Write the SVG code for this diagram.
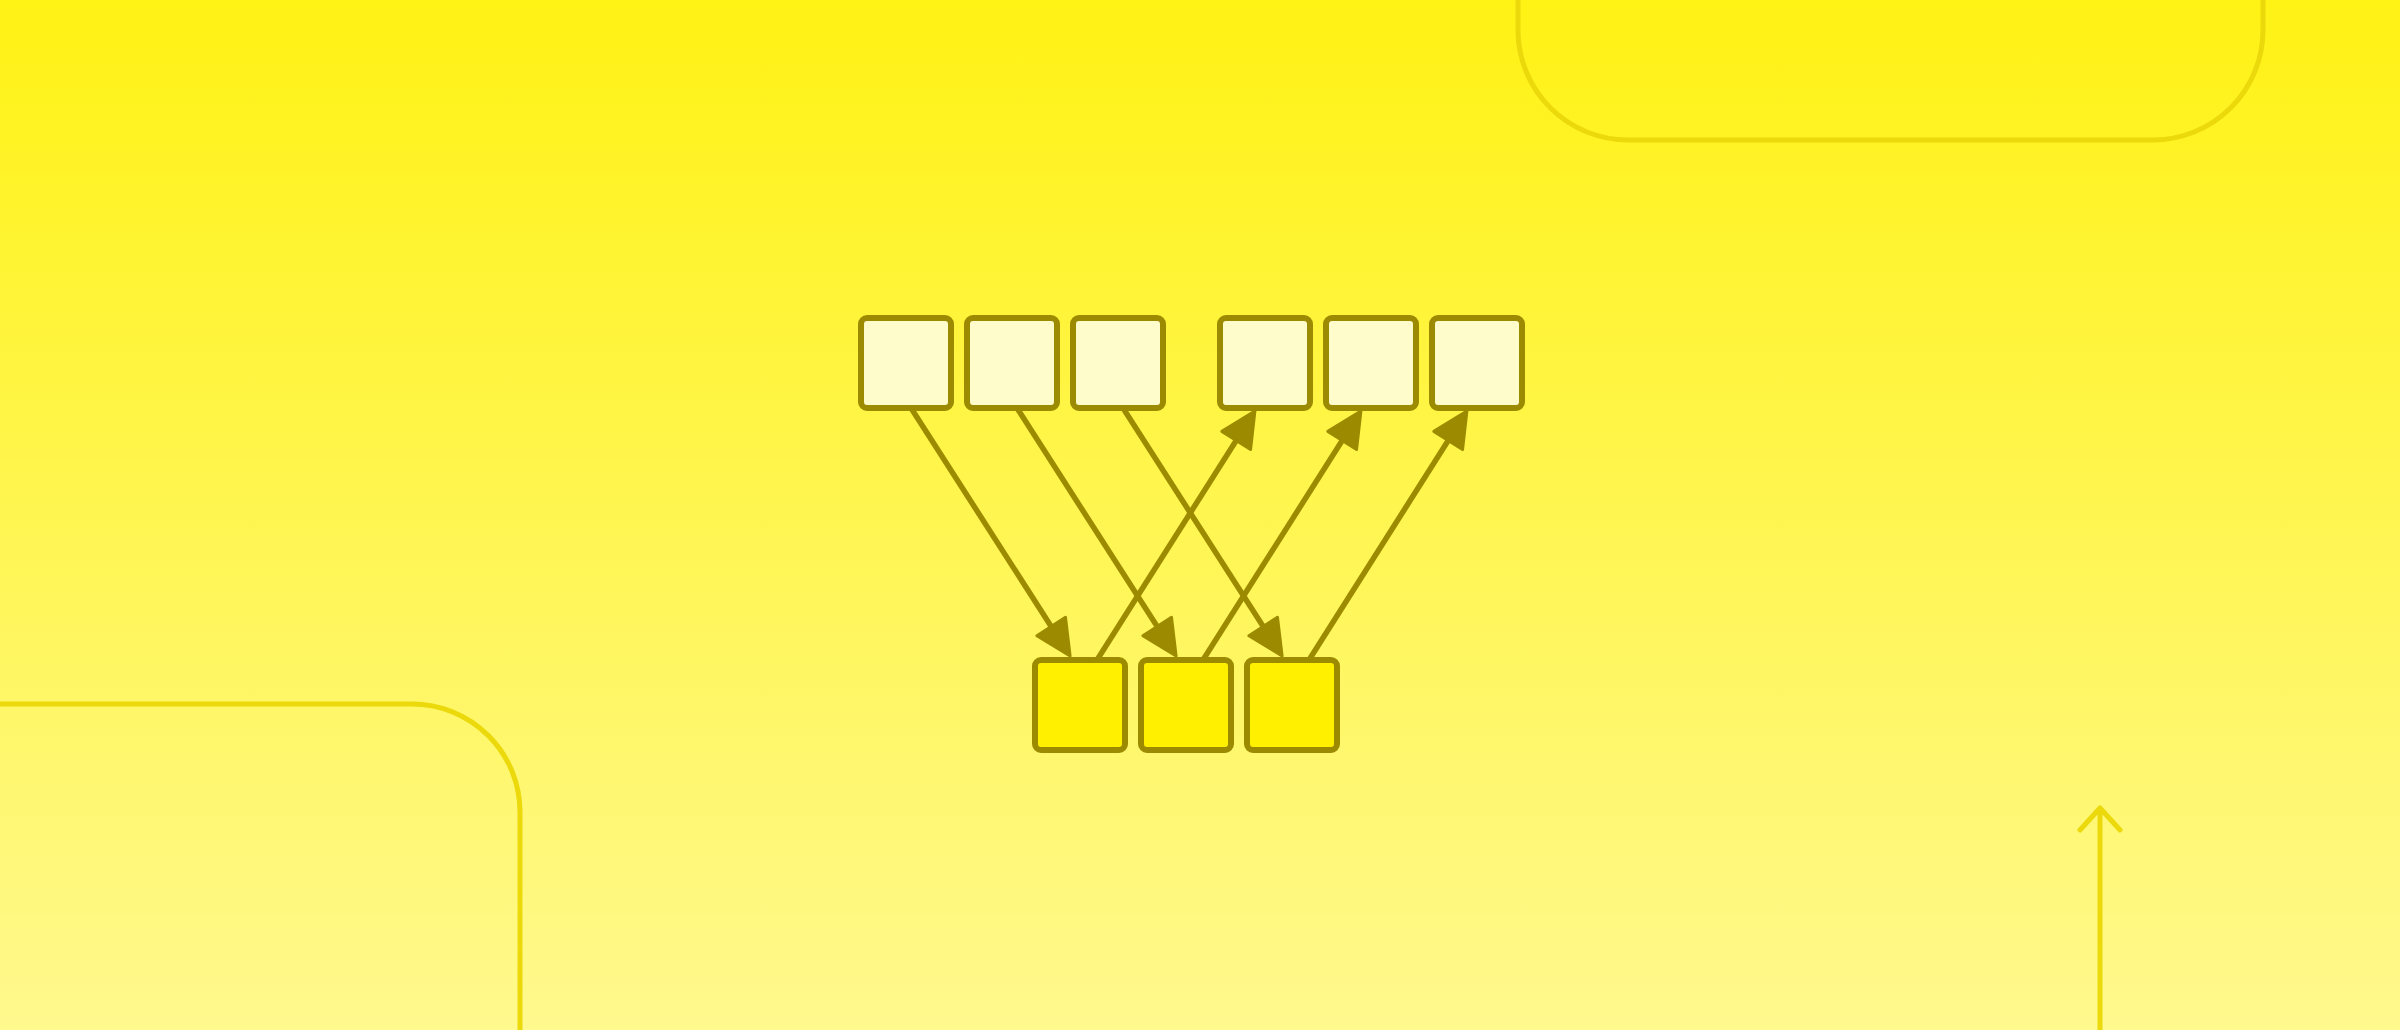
<svg xmlns="http://www.w3.org/2000/svg" width="2400" height="1030" viewBox="0 0 2400 1030">
  <defs>
    <linearGradient id="bg" x1="0" y1="0" x2="0" y2="1">
      <stop offset="0" stop-color="#FFF214"/>
      <stop offset="1" stop-color="#FFF98E"/>
    </linearGradient>
    <marker id="head" markerUnits="userSpaceOnUse" markerWidth="40" markerHeight="40" refX="0" refY="0" orient="auto" overflow="visible">
      <path d="M0,-17 L35,0 L0,17 Z" fill="#9C8A00" stroke="#9C8A00" stroke-width="3" stroke-linejoin="round"/>
    </marker>
    <style>
      .deco { fill: none; stroke: #EBD90C; stroke-width: 5; stroke-linecap: round; stroke-linejoin: round; }
      .edge { fill: none; stroke: #9C8A00; stroke-width: 5.5; marker-end: url(#head); }
      .node { stroke: #9C8A00; stroke-width: 6; }
      .src { fill: #FFFCCC; }
      .dst { fill: #FFF000; }
    </style>
  </defs>
  <rect x="0" y="0" width="2400" height="1030" fill="url(#bg)"/>
  <g id="decorations">
    <path class="deco" d="M1518,-5 V30 A110,110 0 0 0 1628,140 H2153 A110,110 0 0 0 2263,30 V-5"/>
    <path class="deco" d="M-5,704 H412 A108,108 0 0 1 520,812 V1035"/>
    <path class="deco" d="M2100,1035 V808 M2080,830 L2100,808 L2120,830"/>
  </g>
  <g id="connectors">
    <path class="edge" d="M911,408 L1051.2,626.5"/>
    <path class="edge" d="M1017,408 L1157.2,626.5"/>
    <path class="edge" d="M1123,408 L1263.2,626.5"/>
    <path class="edge" d="M1097,660 L1236.2,440.5"/>
    <path class="edge" d="M1203,660 L1342.2,440.5"/>
    <path class="edge" d="M1309,660 L1448.2,440.5"/>
  </g>
  <g id="top-1"><rect class="node src" x="861" y="318" width="90" height="90" rx="6"/></g>
  <g id="top-2"><rect class="node src" x="967" y="318" width="90" height="90" rx="6"/></g>
  <g id="top-3"><rect class="node src" x="1073" y="318" width="90" height="90" rx="6"/></g>
  <g id="top-4"><rect class="node src" x="1220" y="318" width="90" height="90" rx="6"/></g>
  <g id="top-5"><rect class="node src" x="1326" y="318" width="90" height="90" rx="6"/></g>
  <g id="top-6"><rect class="node src" x="1432" y="318" width="90" height="90" rx="6"/></g>
  <g id="bottom-1"><rect class="node dst" x="1035" y="660" width="90" height="90" rx="6"/></g>
  <g id="bottom-2"><rect class="node dst" x="1141" y="660" width="90" height="90" rx="6"/></g>
  <g id="bottom-3"><rect class="node dst" x="1247" y="660" width="90" height="90" rx="6"/></g>
</svg>
